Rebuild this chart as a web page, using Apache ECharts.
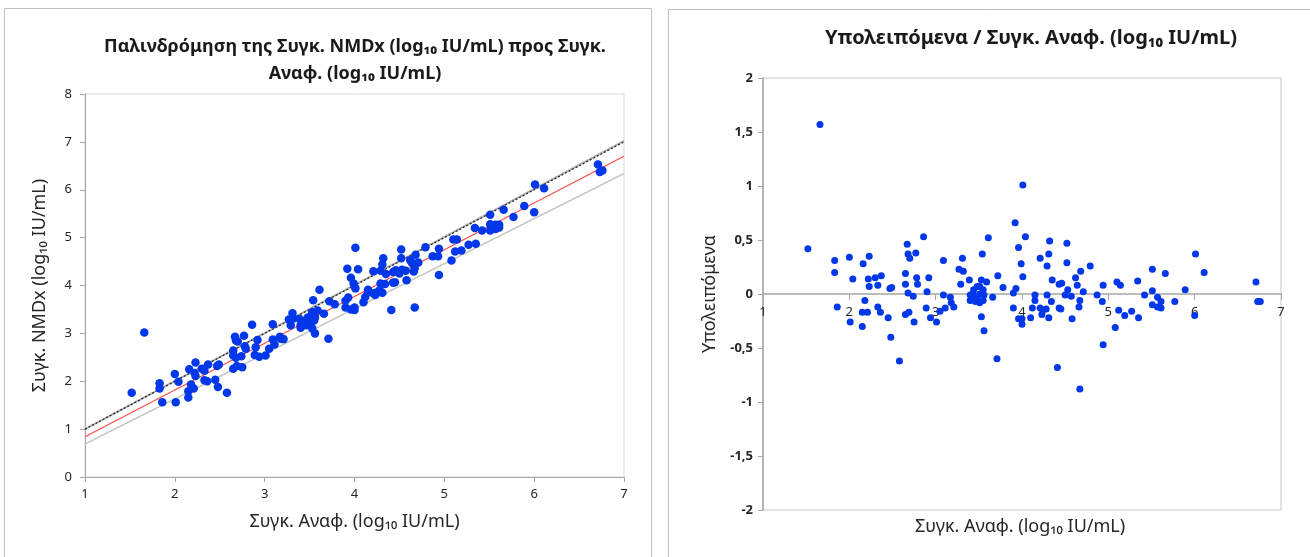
<!DOCTYPE html>
<html><head><meta charset="utf-8">
<script src="https://cdn.jsdelivr.net/npm/echarts@6/dist/echarts.min.js"></script>
<style>html,body{margin:0;padding:0;background:#fff}#c{width:1310px;height:557px}</style>
</head><body><div id="c"></div>
<script>
// Reference concentration (log10 IU/mL), shared by both panels
const refConc = [1.52,1.83,1.83,1.86,2.00,2.01,2.04,2.16,2.23,2.18,
2.15,2.21,2.15,2.22,2.23,2.30,2.37,2.33,2.33,2.36,
2.47,2.49,2.45,2.48,2.58,2.67,2.68,2.70,2.77,2.86,
2.65,2.65,2.68,2.74,2.78,2.79,2.92,2.90,2.89,2.65,
2.69,2.75,2.94,3.01,3.09,3.09,3.11,3.05,3.17,3.18,
3.21,3.27,3.31,3.29,3.32,3.54,3.61,3.39,3.53,3.59,
3.72,3.78,3.66,3.44,3.48,3.51,3.55,3.40,3.44,3.48,
3.51,3.56,3.40,3.46,3.51,3.55,3.43,3.53,3.56,3.71,
3.92,4.01,4.04,3.96,3.99,4.01,3.93,3.90,3.90,3.96,
4.00,4.00,4.10,4.12,4.15,4.15,4.21,4.29,4.31,4.32,
4.35,4.29,4.21,4.24,4.28,4.23,4.31,4.34,4.41,4.43,
4.46,4.43,4.45,4.52,4.52,4.53,4.50,4.57,4.58,4.62,
4.64,4.68,4.71,4.67,4.66,4.67,4.79,4.87,4.93,4.94,
4.94,5.10,5.14,5.12,5.08,5.19,5.27,5.34,5.35,5.42,
5.51,5.51,5.51,5.57,5.57,5.61,5.61,5.66,5.77,5.89,
6.01,6.11,6.71,6.73,6.76,1.66,6.00];
// NMDx concentration (log10 IU/mL)
const nmdxConc = [1.76,1.96,1.85,1.56,2.15,1.56,1.99,2.25,2.39,1.93,
1.79,1.85,1.66,2.17,2.11,2.26,2.35,2.22,2.02,2.00,
2.32,2.35,2.03,1.88,1.76,2.93,2.85,2.83,2.95,3.18,
2.64,2.54,2.49,2.52,2.73,2.68,2.86,2.71,2.55,2.26,
2.32,2.29,2.51,2.54,2.87,3.19,2.77,2.68,2.93,2.89,
2.88,3.29,3.42,3.17,3.31,3.69,3.91,3.30,3.44,3.48,
3.67,3.61,3.41,3.26,3.33,3.36,3.37,3.17,3.18,3.23,
3.29,3.33,3.12,3.17,3.21,3.27,3.21,3.10,3.00,2.89,
4.35,4.79,4.34,4.16,4.04,3.94,3.75,3.68,3.54,3.50,
3.54,3.49,3.65,3.76,3.91,3.86,4.30,4.31,4.44,4.57,
4.24,4.04,3.84,3.85,3.90,3.80,3.85,4.03,3.49,4.28,
4.32,4.06,4.07,4.75,4.57,4.33,4.25,4.31,4.11,4.53,
4.47,4.64,4.48,4.36,4.29,3.54,4.80,4.61,4.61,4.77,
4.22,4.96,4.96,4.71,4.52,4.73,4.85,5.20,4.87,5.15,
5.48,5.28,5.15,5.27,5.18,5.27,5.21,5.58,5.43,5.66,
6.11,6.03,6.53,6.37,6.40,3.02,5.53];
// Residuals
const residuals = [0.42,0.31,0.20,-0.12,0.34,-0.26,0.14,0.28,0.35,-0.06,
-0.17,-0.17,-0.30,0.14,0.07,0.15,0.17,0.08,-0.12,-0.17,
0.05,0.06,-0.22,-0.40,-0.62,0.46,0.37,0.33,0.38,0.53,
0.19,0.09,0.01,-0.02,0.15,0.09,0.15,0.02,-0.13,-0.19,
-0.17,-0.26,-0.22,-0.26,-0.01,0.31,-0.13,-0.16,-0.03,-0.08,
-0.12,0.23,0.33,0.09,0.21,0.37,0.52,0.13,0.13,0.11,
0.17,0.06,-0.03,0.04,0.07,0.07,0.04,-0.01,-0.04,-0.03,
0.00,-0.01,-0.06,-0.07,-0.08,-0.06,0.00,-0.21,-0.34,-0.60,
0.66,1.01,0.53,0.43,0.28,0.16,0.05,0.01,-0.13,-0.23,
-0.23,-0.28,-0.22,-0.13,-0.01,-0.06,0.33,0.26,0.37,0.49,
0.13,-0.01,-0.13,-0.15,-0.14,-0.19,-0.22,-0.07,-0.68,0.09,
0.10,-0.13,-0.14,0.47,0.29,0.04,-0.01,-0.02,-0.23,0.15,
0.08,0.21,0.02,-0.06,-0.12,-0.88,0.26,-0.01,-0.07,0.08,
-0.47,0.11,0.08,-0.15,-0.31,-0.20,-0.16,0.12,-0.22,-0.01,
0.23,0.03,-0.10,-0.03,-0.12,-0.07,-0.13,0.19,-0.07,0.04,
0.37,0.20,0.11,-0.07,-0.07,1.57,-0.20];
// Reference lines on the regression panel (endpoints at x = 1 and x = 7)
const lineX = [1, 7];
const identityY = [1, 7];
const upperBandY = [1.0, 7.02];
const fitY = [0.84, 6.70];
const lowerBandY = [0.69, 6.34];
// Tick settings
const leftXTicks = {min: 1, max: 7, interval: 1};
const leftYTicks = {min: 0, max: 8, interval: 1};
const rightXTicks = {min: 1, max: 7, interval: 1};
const rightYTicks = {min: -2, max: 2, interval: 0.5};

const FONT = 'Noto Sans';
const pts = (xs, ys) => xs.map((x, i) => [x, ys[i]]);
const axisGray = '#a6a6a6';
const txt = '#262626';

const chart = echarts.init(document.getElementById('c'), null, {renderer: 'canvas'});
chart.setOption({
  backgroundColor: '#fff',
  animation: false,
  textStyle: {fontFamily: FONT},
  title: [
    {text: 'Παλινδρόμηση της Συγκ. NMDx (log₁₀ IU/mL) προς Συγκ.\nΑναφ. (log₁₀ IU/mL)',
     left: 350, top: 28, textAlign: 'center',
     textStyle: {fontFamily: FONT, fontSize: 18, fontWeight: 'bold', color: '#1a1a1a', lineHeight: 27}},
    {text: 'Υπολειπόμενα / Συγκ. Αναφ. (log₁₀ IU/mL)',
     left: 1026, top: 23, textAlign: 'center',
     textStyle: {fontFamily: FONT, fontSize: 20, fontWeight: 'bold', color: '#1a1a1a'}}
  ],
  graphic: [
    {type: 'rect', shape: {x: 4.5, y: 8.5, width: 647, height: 570}, style: {fill: 'none', stroke: '#bfbfbf', lineWidth: 1}, silent: true},
    {type: 'rect', shape: {x: 668.5, y: 9.5, width: 660, height: 570}, style: {fill: 'none', stroke: '#bfbfbf', lineWidth: 1}, silent: true},
    {type: 'text', left: 915, top: 518, style: {text: 'Συγκ. Αναφ. (log₁₀ IU/mL)', font: '18px "Noto Sans"', fill: txt}}
  ],
  grid: [
    {left: 85, top: 94, width: 539, height: 383, show: true, borderColor: '#d9d9d9', borderWidth: 1},
    {left: 763, top: 78, width: 518, height: 432, show: true, borderColor: '#c8c8c8', borderWidth: 1}
  ],
  xAxis: [
    {gridIndex: 0, type: 'value', min: leftXTicks.min, max: leftXTicks.max, interval: leftXTicks.interval,
     name: 'Συγκ. Αναφ. (log₁₀ IU/mL)', nameLocation: 'middle', nameGap: 36,
     nameTextStyle: {fontFamily: FONT, fontSize: 18, color: txt},
     axisLine: {lineStyle: {color: axisGray}}, axisTick: {show: true, length: 5, lineStyle: {color: axisGray}},
     axisLabel: {fontFamily: FONT, fontSize: 13, color: txt, margin: 11}, splitLine: {show: false}},
    {gridIndex: 1, type: 'value', min: rightXTicks.min, max: rightXTicks.max, interval: rightXTicks.interval,
     offset: -216,
     axisLine: {onZero: false, lineStyle: {color: axisGray, width: 1.5}}, axisTick: {show: true, length: 6, lineStyle: {color: axisGray}},
     axisLabel: {fontFamily: FONT, fontSize: 13, color: txt, margin: 12}, splitLine: {show: false}}
  ],
  yAxis: [
    {gridIndex: 0, type: 'value', min: leftYTicks.min, max: leftYTicks.max, interval: leftYTicks.interval,
     name: 'Συγκ. NMDx (log₁₀ IU/mL)', nameLocation: 'middle', nameGap: 36, nameRotate: 90,
     nameTextStyle: {fontFamily: FONT, fontSize: 18, color: txt},
     axisLine: {show: true, lineStyle: {color: axisGray}}, axisTick: {show: true, length: 5, lineStyle: {color: axisGray}},
     axisLabel: {fontFamily: FONT, fontSize: 13, color: txt, margin: 13}, splitLine: {show: false}},
    {gridIndex: 1, type: 'value', min: rightYTicks.min, max: rightYTicks.max, interval: rightYTicks.interval,
     name: 'Υπολειπόμενα', nameLocation: 'middle', nameGap: 44, nameRotate: 90,
     nameTextStyle: {fontFamily: FONT, fontSize: 18, color: txt},
     axisLine: {show: true, onZero: false, lineStyle: {color: axisGray, width: 1.5}}, axisTick: {show: true, length: 5, lineStyle: {color: axisGray}},
     axisLabel: {fontFamily: FONT, fontSize: 13, fontWeight: 'bold', color: txt, margin: 10,
       formatter: v => String(v).replace('.', ',')}, splitLine: {show: false}}
  ],
  series: [
    {type: 'line', xAxisIndex: 0, yAxisIndex: 0, data: pts(lineX, lowerBandY), symbol: 'none', lineStyle: {color: '#c8c8c8', width: 1.5}, z: 1},
    {type: 'line', xAxisIndex: 0, yAxisIndex: 0, data: pts(lineX, upperBandY), symbol: 'none', lineStyle: {color: '#b0b0b0', width: 2}, z: 1},
    {type: 'line', xAxisIndex: 0, yAxisIndex: 0, data: pts(lineX, identityY), symbol: 'none', lineStyle: {color: '#222', width: 1.2, type: [2, 2]}, z: 2},
    {type: 'line', xAxisIndex: 0, yAxisIndex: 0, data: pts(lineX, fitY), symbol: 'none', lineStyle: {color: '#ff4a4a', width: 1.2}, z: 2},
    {type: 'scatter', xAxisIndex: 0, yAxisIndex: 0, data: pts(refConc, nmdxConc), symbolSize: 8.5,
     itemStyle: {color: '#0037e8', opacity: 1}, z: 5},
    {type: 'scatter', xAxisIndex: 1, yAxisIndex: 1, data: pts(refConc, residuals), symbolSize: 7,
     itemStyle: {color: '#0037e8', opacity: 1}, z: 5}
  ]
});
</script></body></html>
